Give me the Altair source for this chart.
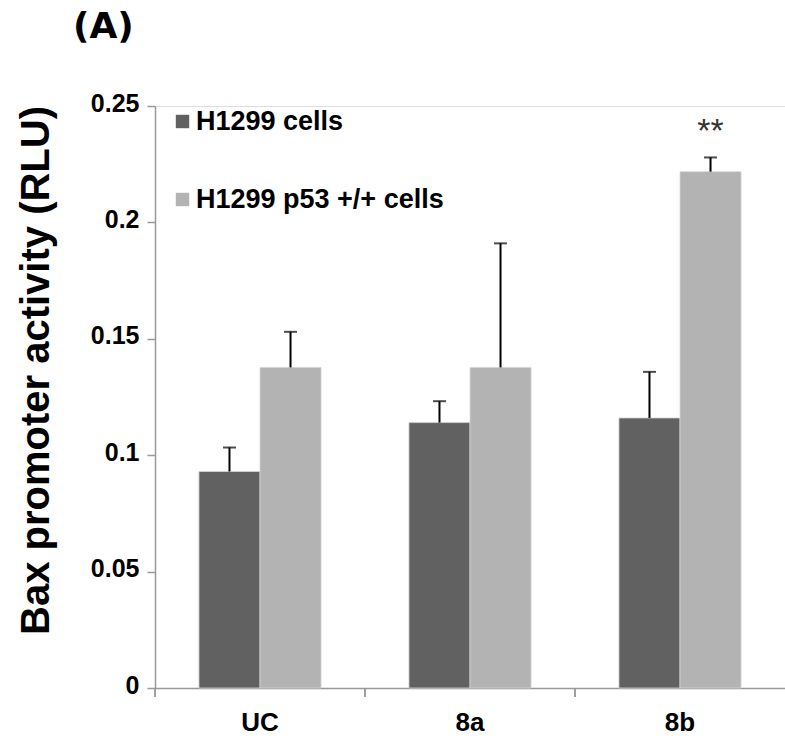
import altair as alt
import pandas as pd

categories = ["UC", "8a", "8b"]
series_names = ["H1299 cells", "H1299 p53 +/+ cells"]
series_colors = ["#616161", "#b3b3b3"]
h1299_values = [0.093, 0.114, 0.116]
h1299_errors = [0.0103, 0.0092, 0.0198]
p53_values = [0.1377, 0.1377, 0.2218]
p53_errors = [0.0153, 0.0533, 0.0061]
y_ticks = [0, 0.05, 0.1, 0.15, 0.2, 0.25]
annotation_category = "8b"
annotation_series = "H1299 p53 +/+ cells"
annotation_text = "**"

rows = []
for i, c in enumerate(categories):
    for s, vals, errs in ((series_names[0], h1299_values, h1299_errors),
                          (series_names[1], p53_values, p53_errors)):
        rows.append(dict(cat=c, series=s, value=vals[i], upper=vals[i] + errs[i],
                         label=annotation_text if (c == annotation_category and s == annotation_series) else ""))
df = pd.DataFrame(rows)

W, H = 630, 582
FONT = "Liberation Sans, Arial, sans-serif"

xscale = alt.Scale(paddingInner=0, paddingOuter=0)
x_enc = alt.X("cat:N", sort=categories, scale=xscale,
              axis=alt.Axis(title=None, ticks=False, labelFontSize=26, labelFont=FONT,
                            labelFontWeight="bold", labelColor="black", labelPadding=21,
                            domainColor="#999999", domainWidth=1.5, labelAngle=0))
xoff = alt.XOffset("series:N", sort=series_names,
                   scale=alt.Scale(paddingInner=0, paddingOuter=0.72))
y_enc = alt.Y("value:Q", scale=alt.Scale(domain=[0, 0.25], nice=False),
              axis=alt.Axis(values=y_ticks, format="~g", title="Bax promoter activity (RLU)",
                            titleFontSize=40, titleFont=FONT, titleFontWeight="bold",
                            titleColor="black", titleX=-107, titleY=264, titleBaseline="alphabetic",
                            titleAngle=270,
                            labelFontSize=25, labelFont=FONT, labelFontWeight="bold",
                            labelColor="black", labelPadding=8, labelOffset=-3,
                            tickSize=8, tickColor="#999999", tickWidth=1.5,
                            domainColor="#999999", domainWidth=1.5, grid=False))

base = alt.Chart(df)

bars = base.mark_bar(stroke="#d6d6d6", strokeWidth=0.8).encode(
    x=x_enc, xOffset=xoff, y=y_enc,
    color=alt.Color("series:N", sort=series_names,
                    scale=alt.Scale(domain=series_names, range=series_colors),
                    legend=alt.Legend(orient="none", legendX=14, legendY=2, title=None,
                                      symbolType="square", symbolSize=180, symbolStrokeWidth=0,
                                      labelFontSize=27, labelFont=FONT, labelFontWeight="bold",
                                      labelColor="black", rowPadding=50, labelOffset=0,
                                      labelLimit=400)),
)

err = base.mark_rule(color="black", strokeWidth=2).encode(
    x=alt.X("cat:N", sort=categories), xOffset=alt.XOffset("series:N", sort=series_names),
    y="value:Q", y2="upper:Q")

caps = base.mark_tick(color="black", thickness=2, size=13, orient="horizontal").encode(
    x=alt.X("cat:N", sort=categories), xOffset=alt.XOffset("series:N", sort=series_names),
    y="upper:Q")

stars = base.mark_text(dy=-25, fontSize=34, color="#333333", font=FONT).encode(
    x=alt.X("cat:N", sort=categories), xOffset=alt.XOffset("series:N", sort=series_names),
    y="upper:Q", text="label:N")

xticks = base.mark_rule(color="#999999", strokeWidth=1.5).encode(
    x=alt.X("cat:N", sort=categories, bandPosition=0),
    y=alt.value(H), y2=alt.value(H + 9))

chart = alt.layer(bars, err, caps, stars, xticks).properties(
    width=W, height=H,
    title=alt.TitleParams("(A)", anchor="start", frame="group", dx=-82, offset=45,
                          fontSize=36, font="DejaVu Sans",
                          fontWeight="bold", color="black"),
    autosize=alt.AutoSizeParams(type="none"),
    padding={"left": 155, "top": 106, "right": 0, "bottom": 66},
).configure_view(stroke=None).configure(background="white")

chart.save("out.html", embed_options={"renderer": "svg", "actions": False})
